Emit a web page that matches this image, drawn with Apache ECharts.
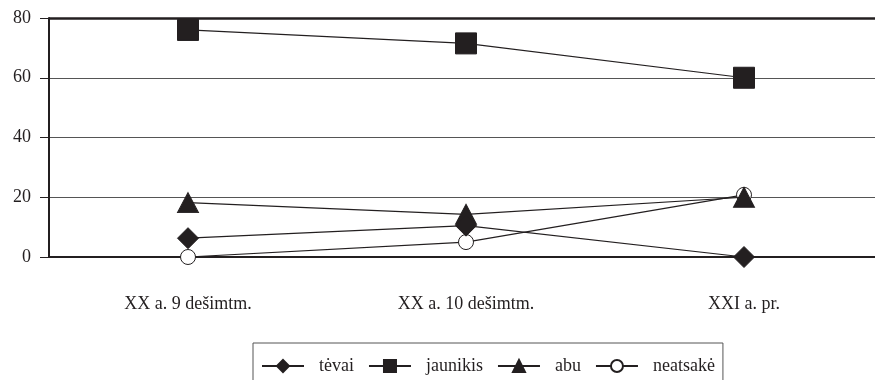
<!DOCTYPE html>
<html><head><meta charset="utf-8">
<script src="https://cdn.jsdelivr.net/npm/echarts@6/dist/echarts.min.js"></script>
<style>html,body{margin:0;padding:0;background:#fff}#c{width:875px;height:380px}</style>
</head><body><div id="c"></div>
<script>
const categories = ['XX a. 9 dešimtm.', 'XX a. 10 dešimtm.', 'XXI a. pr.'];
const tevai = [6.3, 10.5, 0];
const jaunikis = [76, 71.5, 60];
const abu = [18.2, 14.3, 20];
const neatsake = [0, 5, 20.8];
const yTicks = [0, 20, 40, 60, 80];

const ink = '#231f20';
const font = '"Liberation Serif", "Times New Roman", serif';
const chart = echarts.init(document.getElementById('c'), null, {renderer: 'canvas'});

function ser(name, data, symbol, size, fill, z) {
  return {
    name, type: 'line', data, symbol, symbolSize: size, z,
    lineStyle: {color: ink, width: 1.2},
    itemStyle: {color: fill, borderColor: ink, borderWidth: 1},
    emphasis: {disabled: true}, animation: false
  };
}

chart.setOption({
  animation: false,
  textStyle: {fontFamily: font, color: ink},
  grid: {left: 49, top: 18, width: 834, height: 239, show: false,
         containLabel: false, outerBoundsMode: 'none'},
  legend: {
    left: 253, top: 343, width: 469,
    padding: [14, 8, 20, 8],
    borderColor: '#555', borderWidth: 1,
    itemWidth: 42, itemHeight: 15, itemGap: 14,
    textStyle: {fontFamily: font, fontSize: 18, color: ink, padding: [0, 0, 0, 10]},
    data: ['tėvai', 'jaunikis', 'abu', 'neatsakė']
  },
  xAxis: {
    type: 'category', data: categories, boundaryGap: true,
    axisLine: {lineStyle: {color: ink, width: 2}},
    axisTick: {show: false},
    axisLabel: {fontFamily: font, fontSize: 18, color: ink, margin: 38}
  },
  yAxis: {
    type: 'value', min: 0, max: 80, interval: 20,
    axisLine: {show: true, lineStyle: {color: ink, width: 2}},
    axisTick: {show: true, length: 9, lineStyle: {color: ink, width: 1}},
    axisLabel: {fontFamily: font, fontSize: 18, color: ink, margin: 18,
      formatter: v => yTicks.includes(v) ? String(v) : ''},
    splitLine: {show: true, lineStyle: {color: '#555', width: 1.2}}
  },
  series: [
    ser('tėvai', tevai, 'diamond', 21, ink, 5),
    ser('jaunikis', jaunikis, 'rect', 21, ink, 4),
    ser('abu', abu, 'triangle', [21, 20], ink, 3),
    ser('neatsakė', neatsake, 'circle', 15, '#fff', 2),
    {type: 'line', data: [], markLine: {silent: true, symbol: 'none', label: {show: false},
      lineStyle: {color: ink, width: 2.5, type: 'solid'}, data: [{yAxis: 80}]}}
  ]
});
</script></body></html>
